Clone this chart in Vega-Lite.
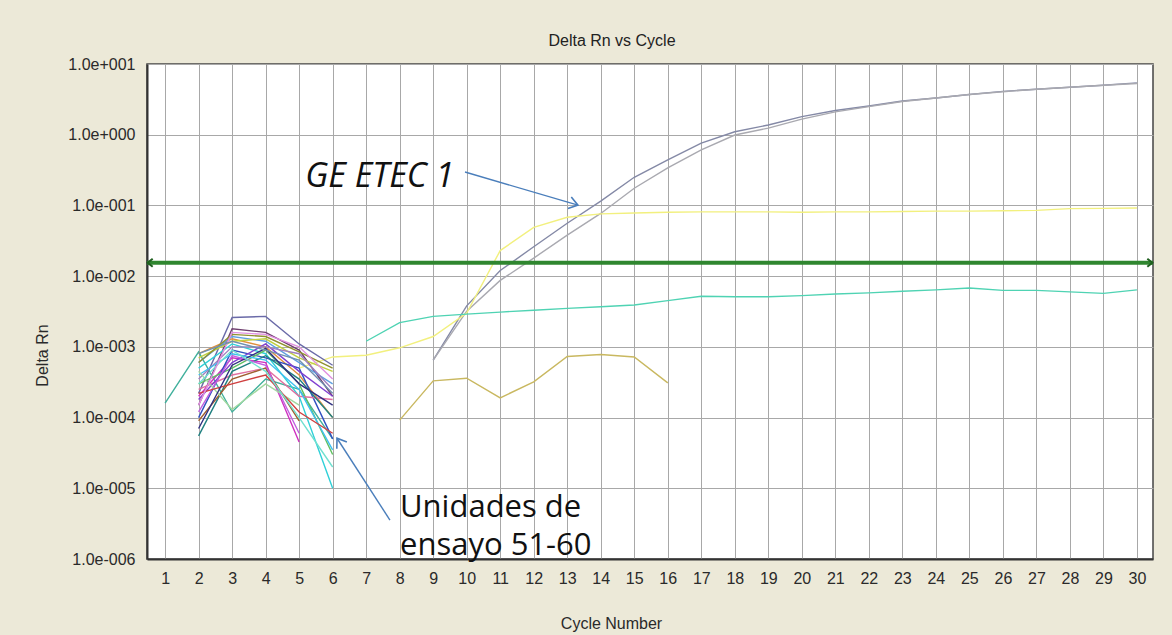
{
  "$schema": "https://vega.github.io/schema/vega-lite/v6.json",
  "width": 1006,
  "height": 495,
  "autosize": {"type": "none"},
  "padding": {"left": 147, "top": 64, "right": 19, "bottom": 76},
  "background": "#ece9d8",
  "title": {
    "text": "Delta Rn vs Cycle",
    "font": "Liberation Sans",
    "fontSize": 16,
    "fontWeight": "normal",
    "color": "#222222",
    "anchor": "middle",
    "dx": -38,
    "dy": 25,
    "baseline": "alphabetic",
    "offset": 19
  },
  "config": {
    "view": {"fill": "#ffffff", "stroke": "#444444", "strokeWidth": 1.5},
    "axis": {
      "labelFont": "Liberation Sans",
      "labelFontSize": 16,
      "labelColor": "#2a2a2a",
      "titleFont": "Liberation Sans",
      "titleFontSize": 16,
      "titleFontWeight": "normal",
      "titleColor": "#2a2a2a",
      "ticks": false,
      "gridColor": "#a8a8a8",
      "gridWidth": 1,
      "gridOpacity": 1,
      "domainColor": "#333333",
      "domainWidth": 2
    }
  },
  "layer": [
    {
      "data": {
        "values": [
          {"s": "G1", "c": 9, "v": 0.00065}, {"s": "G1", "c": 10, "v": 0.0038}, {"s": "G1", "c": 11, "v": 0.012}, {"s": "G1", "c": 12, "v": 0.026}, {"s": "G1", "c": 13, "v": 0.056}, {"s": "G1", "c": 14, "v": 0.115}, {"s": "G1", "c": 15, "v": 0.25}, {"s": "G1", "c": 16, "v": 0.44}, {"s": "G1", "c": 17, "v": 0.76}, {"s": "G1", "c": 18, "v": 1.1}, {"s": "G1", "c": 19, "v": 1.37}, {"s": "G1", "c": 20, "v": 1.8}, {"s": "G1", "c": 21, "v": 2.2}, {"s": "G1", "c": 22, "v": 2.55}, {"s": "G1", "c": 23, "v": 3.0}, {"s": "G1", "c": 24, "v": 3.3}, {"s": "G1", "c": 25, "v": 3.7}, {"s": "G1", "c": 26, "v": 4.1}, {"s": "G1", "c": 27, "v": 4.4}, {"s": "G1", "c": 28, "v": 4.7}, {"s": "G1", "c": 29, "v": 5.0}, {"s": "G1", "c": 30, "v": 5.4},
          {"s": "G2", "c": 9, "v": 0.00065}, {"s": "G2", "c": 10, "v": 0.0032}, {"s": "G2", "c": 11, "v": 0.0087}, {"s": "G2", "c": 12, "v": 0.018}, {"s": "G2", "c": 13, "v": 0.038}, {"s": "G2", "c": 14, "v": 0.077}, {"s": "G2", "c": 15, "v": 0.175}, {"s": "G2", "c": 16, "v": 0.34}, {"s": "G2", "c": 17, "v": 0.61}, {"s": "G2", "c": 18, "v": 0.99}, {"s": "G2", "c": 19, "v": 1.24}, {"s": "G2", "c": 20, "v": 1.66}, {"s": "G2", "c": 21, "v": 2.1}, {"s": "G2", "c": 22, "v": 2.5}, {"s": "G2", "c": 23, "v": 2.95}, {"s": "G2", "c": 24, "v": 3.3}, {"s": "G2", "c": 25, "v": 3.7}, {"s": "G2", "c": 26, "v": 4.05}, {"s": "G2", "c": 27, "v": 4.4}, {"s": "G2", "c": 28, "v": 4.7}, {"s": "G2", "c": 29, "v": 5.0}, {"s": "G2", "c": 30, "v": 5.3},
          {"s": "Y", "c": 5, "v": 0.0005}, {"s": "Y", "c": 6, "v": 0.00072}, {"s": "Y", "c": 7, "v": 0.00076}, {"s": "Y", "c": 8, "v": 0.00097}, {"s": "Y", "c": 9, "v": 0.0014}, {"s": "Y", "c": 10, "v": 0.003}, {"s": "Y", "c": 11, "v": 0.023}, {"s": "Y", "c": 12, "v": 0.049}, {"s": "Y", "c": 13, "v": 0.068}, {"s": "Y", "c": 14, "v": 0.076}, {"s": "Y", "c": 15, "v": 0.078}, {"s": "Y", "c": 16, "v": 0.08}, {"s": "Y", "c": 17, "v": 0.081}, {"s": "Y", "c": 18, "v": 0.081}, {"s": "Y", "c": 19, "v": 0.081}, {"s": "Y", "c": 20, "v": 0.08}, {"s": "Y", "c": 21, "v": 0.081}, {"s": "Y", "c": 22, "v": 0.081}, {"s": "Y", "c": 23, "v": 0.082}, {"s": "Y", "c": 24, "v": 0.083}, {"s": "Y", "c": 25, "v": 0.083}, {"s": "Y", "c": 26, "v": 0.084}, {"s": "Y", "c": 27, "v": 0.085}, {"s": "Y", "c": 28, "v": 0.09}, {"s": "Y", "c": 29, "v": 0.091}, {"s": "Y", "c": 30, "v": 0.092},
          {"s": "T", "c": 7, "v": 0.0012}, {"s": "T", "c": 8, "v": 0.0022}, {"s": "T", "c": 9, "v": 0.0027}, {"s": "T", "c": 10, "v": 0.0029}, {"s": "T", "c": 11, "v": 0.0031}, {"s": "T", "c": 12, "v": 0.0033}, {"s": "T", "c": 13, "v": 0.0035}, {"s": "T", "c": 14, "v": 0.0037}, {"s": "T", "c": 15, "v": 0.0039}, {"s": "T", "c": 16, "v": 0.0045}, {"s": "T", "c": 17, "v": 0.0052}, {"s": "T", "c": 18, "v": 0.0051}, {"s": "T", "c": 19, "v": 0.0051}, {"s": "T", "c": 20, "v": 0.0053}, {"s": "T", "c": 21, "v": 0.0056}, {"s": "T", "c": 22, "v": 0.0058}, {"s": "T", "c": 23, "v": 0.0061}, {"s": "T", "c": 24, "v": 0.0064}, {"s": "T", "c": 25, "v": 0.0068}, {"s": "T", "c": 26, "v": 0.0063}, {"s": "T", "c": 27, "v": 0.0063}, {"s": "T", "c": 28, "v": 0.006}, {"s": "T", "c": 29, "v": 0.0057}, {"s": "T", "c": 30, "v": 0.0064},
          {"s": "K", "c": 8, "v": 0.000092}, {"s": "K", "c": 9, "v": 0.00033}, {"s": "K", "c": 10, "v": 0.00036}, {"s": "K", "c": 11, "v": 0.00019}, {"s": "K", "c": 12, "v": 0.00032}, {"s": "K", "c": 13, "v": 0.00073}, {"s": "K", "c": 14, "v": 0.00078}, {"s": "K", "c": 15, "v": 0.00072}, {"s": "K", "c": 16, "v": 0.00031},
          {"s": "L1", "c": 2, "v": 0.00022}, {"s": "L1", "c": 3, "v": 0.0026}, {"s": "L1", "c": 4, "v": 0.0027}, {"s": "L1", "c": 5, "v": 0.0011}, {"s": "L1", "c": 6, "v": 0.00055},
          {"s": "L2", "c": 2, "v": 0.00015}, {"s": "L2", "c": 3, "v": 0.0018}, {"s": "L2", "c": 4, "v": 0.0016}, {"s": "L2", "c": 5, "v": 0.0009}, {"s": "L2", "c": 6, "v": 0.0002},
          {"s": "L3", "c": 1, "v": 0.00016}, {"s": "L3", "c": 2, "v": 0.00085}, {"s": "L3", "c": 3, "v": 0.00012}, {"s": "L3", "c": 4, "v": 0.00035}, {"s": "L3", "c": 5, "v": 0.00025}, {"s": "L3", "c": 6, "v": 0.00005},
          {"s": "L4", "c": 2, "v": 0.0005}, {"s": "L4", "c": 3, "v": 0.0011}, {"s": "L4", "c": 4, "v": 0.0008}, {"s": "L4", "c": 5, "v": 0.0002}, {"s": "L4", "c": 6, "v": 0.00001},
          {"s": "L5", "c": 2, "v": 0.0002}, {"s": "L5", "c": 3, "v": 0.0007}, {"s": "L5", "c": 4, "v": 0.0006}, {"s": "L5", "c": 5, "v": 0.000045},
          {"s": "L6", "c": 2, "v": 0.0008}, {"s": "L6", "c": 3, "v": 0.0013}, {"s": "L6", "c": 4, "v": 0.001}, {"s": "L6", "c": 5, "v": 0.0004}, {"s": "L6", "c": 6, "v": 0.0001},
          {"s": "L7", "c": 2, "v": 0.0001}, {"s": "L7", "c": 3, "v": 0.0009}, {"s": "L7", "c": 4, "v": 0.0007}, {"s": "L7", "c": 5, "v": 0.0005}, {"s": "L7", "c": 6, "v": 0.00005},
          {"s": "L8", "c": 2, "v": 0.0003}, {"s": "L8", "c": 3, "v": 0.0005}, {"s": "L8", "c": 4, "v": 0.0009}, {"s": "L8", "c": 5, "v": 0.0003}, {"s": "L8", "c": 6, "v": 0.00003},
          {"s": "L9", "c": 2, "v": 0.00025}, {"s": "L9", "c": 3, "v": 0.0004}, {"s": "L9", "c": 4, "v": 0.0005}, {"s": "L9", "c": 5, "v": 0.0002}, {"s": "L9", "c": 6, "v": 0.00018},
          {"s": "L10", "c": 2, "v": 0.00018}, {"s": "L10", "c": 3, "v": 0.0006}, {"s": "L10", "c": 4, "v": 0.0011}, {"s": "L10", "c": 5, "v": 0.00045}, {"s": "L10", "c": 6, "v": 0.0002},
          {"s": "L11", "c": 2, "v": 0.0006}, {"s": "L11", "c": 3, "v": 0.0014}, {"s": "L11", "c": 4, "v": 0.0012}, {"s": "L11", "c": 5, "v": 0.0006}, {"s": "L11", "c": 6, "v": 0.0003},
          {"s": "L12", "c": 2, "v": 0.0007}, {"s": "L12", "c": 3, "v": 0.0012}, {"s": "L12", "c": 4, "v": 0.0013}, {"s": "L12", "c": 5, "v": 0.0007}, {"s": "L12", "c": 6, "v": 0.00045},
          {"s": "L13", "c": 2, "v": 0.00035}, {"s": "L13", "c": 3, "v": 0.001}, {"s": "L13", "c": 4, "v": 0.001}, {"s": "L13", "c": 5, "v": 0.0008}, {"s": "L13", "c": 6, "v": 0.00025},
          {"s": "L14", "c": 2, "v": 0.000055}, {"s": "L14", "c": 3, "v": 0.00045}, {"s": "L14", "c": 4, "v": 0.00075}, {"s": "L14", "c": 5, "v": 0.00035}, {"s": "L14", "c": 6, "v": 0.0001},
          {"s": "L15", "c": 2, "v": 0.00009}, {"s": "L15", "c": 3, "v": 0.00035}, {"s": "L15", "c": 4, "v": 0.0005}, {"s": "L15", "c": 5, "v": 0.00009},
          {"s": "L16", "c": 2, "v": 0.0004}, {"s": "L16", "c": 3, "v": 0.0008}, {"s": "L16", "c": 4, "v": 0.00065}, {"s": "L16", "c": 5, "v": 0.00025}, {"s": "L16", "c": 6, "v": 0.000035},
          {"s": "L17", "c": 2, "v": 0.00012}, {"s": "L17", "c": 3, "v": 0.00075}, {"s": "L17", "c": 4, "v": 0.00055}, {"s": "L17", "c": 5, "v": 0.00006},
          {"s": "L18", "c": 2, "v": 0.00045}, {"s": "L18", "c": 3, "v": 0.00013}, {"s": "L18", "c": 4, "v": 0.0003}, {"s": "L18", "c": 5, "v": 0.00015},
          {"s": "L19", "c": 2, "v": 0.00022}, {"s": "L19", "c": 3, "v": 0.0003}, {"s": "L19", "c": 4, "v": 0.0004}, {"s": "L19", "c": 5, "v": 0.00012}, {"s": "L19", "c": 6, "v": 0.00006},
          {"s": "L20", "c": 2, "v": 0.00007}, {"s": "L20", "c": 3, "v": 0.00055}, {"s": "L20", "c": 4, "v": 0.00095}, {"s": "L20", "c": 5, "v": 0.0003}, {"s": "L20", "c": 6, "v": 0.00015},
          {"s": "L21", "c": 2, "v": 0.0003}, {"s": "L21", "c": 3, "v": 0.0009}, {"s": "L21", "c": 4, "v": 0.00045}, {"s": "L21", "c": 5, "v": 0.0001}, {"s": "L21", "c": 6, "v": 0.00002},
          {"s": "L22", "c": 2, "v": 0.0006}, {"s": "L22", "c": 3, "v": 0.0015}, {"s": "L22", "c": 4, "v": 0.0014}, {"s": "L22", "c": 5, "v": 0.00085}, {"s": "L22", "c": 6, "v": 0.0005},
          {"s": "L23", "c": 2, "v": 0.00015}, {"s": "L23", "c": 3, "v": 0.0016}, {"s": "L23", "c": 4, "v": 0.0015}, {"s": "L23", "c": 5, "v": 0.001}, {"s": "L23", "c": 6, "v": 0.00035},
          {"s": "L24", "c": 2, "v": 0.0008}, {"s": "L24", "c": 3, "v": 0.0012}, {"s": "L24", "c": 4, "v": 0.0009}, {"s": "L24", "c": 5, "v": 0.00065}, {"s": "L24", "c": 6, "v": 0.00022}
        ]
      },
      "mark": {"type": "line", "strokeWidth": 1.4, "clip": true},
      "encoding": {
        "x": {
          "field": "c", "type": "quantitative",
          "scale": {"domain": [0.46, 30.48], "nice": false, "zero": false},
          "axis": {
            "values": [1,2,3,4,5,6,7,8,9,10,11,12,13,14,15,16,17,18,19,20,21,22,23,24,25,26,27,28,29,30],
            "tickCount": 60,
            "format": "d",
            "title": "Cycle Number",
            "labelOverlap": false,
            "labelPadding": 11,
            "labelFlush": false,
            "titleX": 464,
            "titleY": 69,
            "titleBaseline": "alphabetic",
            "titleAnchor": null
          }
        },
        "y": {
          "field": "v", "type": "quantitative",
          "scale": {"type": "log", "domain": [0.000001, 10], "nice": false},
          "axis": {
            "values": [0.000001, 0.00001, 0.0001, 0.001, 0.01, 0.1, 1, 10],
            "tickCount": 20,
            "labelExpr": "'1.0e' + (datum.value >= 1 ? '+' : '-') + '00' + abs(round(log(datum.value) / LN10))",
            "labelOverlap": false,
            "labelPadding": 12,
            "labelFlush": false,
            "title": "Delta Rn",
            "titleAngle": -90,
            "titleX": -100,
            "titleY": 291,
            "titleAlign": "center",
            "titleBaseline": "alphabetic"
          }
        },
        "detail": {"field": "s"},
        "color": {
          "field": "s", "type": "nominal", "legend": null,
          "scale": {
            "domain": ["G1","G2","Y","T","K","L1","L2","L3","L4","L5","L6","L7","L8","L9","L10","L11","L12","L13","L14","L15","L16","L17","L18","L19","L20","L21","L22","L23","L24"],
            "range": ["#8489a6","#a9a9b0","#f2f07e","#4fd3b3","#c9b860","#6a6aa8","#704070","#40b09c","#30d0d8","#d030c0","#e09040","#3050c0","#60c060","#e070a0","#8040d0","#60a0e0","#c0d040","#a080c0","#208080","#a06030","#40c0f0","#c060e0","#a0d8a0","#d04040","#303080","#70e0d0","#909030","#e090e0","#7090b0"]
          }
        }
      }
    },
    {
      "data": {"values": [{"t": 0.0155}]},
      "mark": {"type": "rule", "color": "#2f862f", "strokeWidth": 4},
      "encoding": {"y": {"field": "t", "type": "quantitative"}}
    },
    {
      "data": {"values": [{"c": 0.48, "t": 0.0155, "a": 270}, {"c": 30.46, "t": 0.0155, "a": 90}]},
      "mark": {"type": "point", "shape": "M-0.8,1L0,0L0.8,1", "filled": false, "stroke": "#1f5f1f", "strokeWidth": 2, "size": 100, "opacity": 1},
      "encoding": {
        "x": {"field": "c", "type": "quantitative"},
        "y": {"field": "t", "type": "quantitative"},
        "angle": {"field": "a", "type": "quantitative", "scale": null}
      }
    },
    {
      "data": {"values": [
        {"c1": 9.95, "v1": 0.297, "c2": 13.32, "v2": 0.101},
        {"c1": 7.71, "v1": 0.00000355, "c2": 6.13, "v2": 0.000051}
      ]},
      "mark": {"type": "rule", "color": "#4a7ebb", "strokeWidth": 1.4},
      "encoding": {
        "x": {"field": "c1", "type": "quantitative"},
        "x2": {"field": "c2"},
        "y": {"field": "v1", "type": "quantitative"},
        "y2": {"field": "v2"}
      }
    },
    {
      "data": {"values": [
        {"c": 13.32, "v": 0.101, "a": 106},
        {"c": 6.13, "v": 0.000051, "a": 326}
      ]},
      "mark": {"type": "point", "shape": "M-0.7,1L0,0L0.7,1", "filled": false, "stroke": "#4a7ebb", "strokeWidth": 1.6, "size": 300, "opacity": 1},
      "encoding": {
        "x": {"field": "c", "type": "quantitative"},
        "y": {"field": "v", "type": "quantitative"},
        "angle": {"field": "a", "type": "quantitative", "scale": null}
      }
    },
    {
      "data": {"values": [{"c": 5.18, "v": 0.182, "label": "GE ETEC 1"}]},
      "mark": {"type": "text", "font": "Open Sans", "fontSize": 34, "fontStyle": "italic", "align": "left", "baseline": "alphabetic", "color": "#111111"},
      "encoding": {
        "x": {"field": "c", "type": "quantitative"},
        "y": {"field": "v", "type": "quantitative"},
        "text": {"field": "label"}
      }
    },
    {
      "data": {"values": [{"c": 8.01, "v": 0.00000392, "label": "Unidades de\nensayo 51-60"}]},
      "mark": {"type": "text", "font": "Open Sans", "fontSize": 31, "align": "left", "baseline": "alphabetic", "lineBreak": "\n", "lineHeight": 38, "color": "#111111"},
      "encoding": {
        "x": {"field": "c", "type": "quantitative"},
        "y": {"field": "v", "type": "quantitative"},
        "text": {"field": "label"}
      }
    }
  ]
}
